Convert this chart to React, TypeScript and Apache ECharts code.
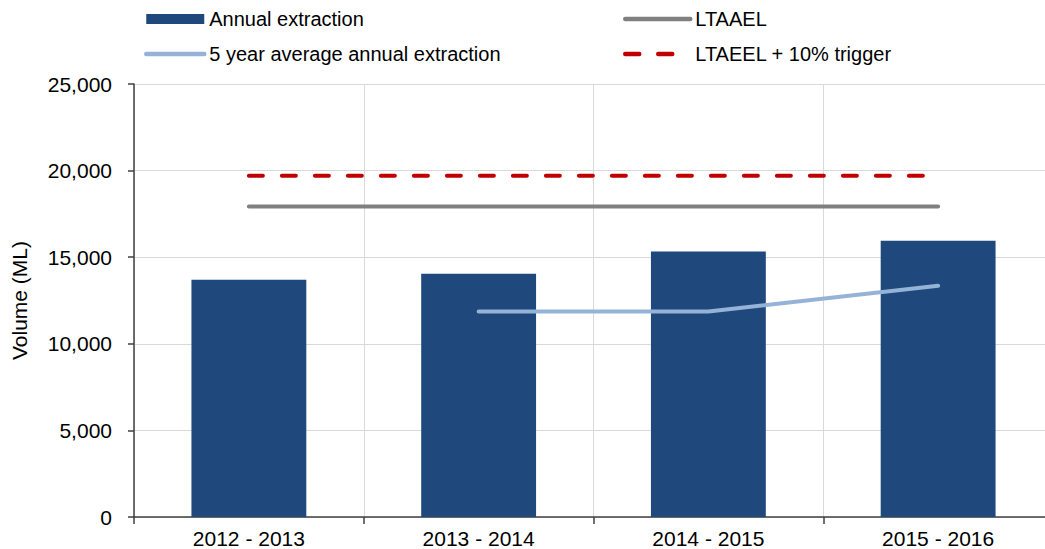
import React, { useEffect, useRef } from "react";
import * as echarts from "echarts";

const categories = ["2012 - 2013", "2013 - 2014", "2014 - 2015", "2015 - 2016"];
const annualExtraction = [13700, 14050, 15330, 15950];
const fiveYearAverage: (number | null)[] = [null, 11870, 11870, 13350];
const ltaael = [17930, 17930, 17930, 17930];
const trigger = [19700, 19700, 19700, 19700];

const FONT = "'Liberation Sans', Arial, sans-serif";

export default function App() {
  const ref = useRef<HTMLDivElement>(null);
  useEffect(() => {
    if (!ref.current) return;
    const chart = echarts.init(ref.current, undefined, { renderer: "svg" });
    const legendText = { fontSize: 20, color: "#000", fontFamily: FONT, lineHeight: 24 };
    chart.setOption({
      animation: false,
      textStyle: { fontFamily: FONT },
      legend: [
        {
          left: 144,
          top: 7,
          padding: 0,
          orient: "vertical",
          itemWidth: 58,
          itemHeight: 10,
          itemGap: 11,
          textStyle: legendText,
          data: [
            { name: "Annual extraction", icon: "rect" },
            {
              name: "5 year average annual extraction",
              itemStyle: { opacity: 0 },
              lineStyle: { width: 4.5, cap: "round" },
            },
          ],
        },
        {
          left: 623,
          top: 7,
          padding: 0,
          orient: "vertical",
          itemWidth: 65,
          itemHeight: 10,
          itemGap: 11,
          textStyle: legendText,
          data: [
            { name: "LTAAEL", itemStyle: { opacity: 0 }, lineStyle: { width: 4.5, cap: "round" } },
            {
              name: "LTAEEL + 10% trigger",
              itemStyle: { opacity: 0 },
              lineStyle: { width: 4.5, cap: "round", type: [14, 19] },
            },
          ],
        },
      ],
      grid: { left: 134, top: 84, width: 919, height: 434, containLabel: false },
      xAxis: {
        type: "category",
        data: categories,
        axisLine: { lineStyle: { color: "#404040", width: 1.5 } },
        axisTick: { show: true, length: 7, lineStyle: { color: "#404040", width: 1.5 } },
        axisLabel: { fontSize: 21, color: "#000", margin: 11, fontFamily: FONT },
        splitLine: { show: true, lineStyle: { color: "#D9D9D9", width: 1 } },
      },
      yAxis: {
        type: "value",
        min: 0,
        max: 25000,
        interval: 5000,
        name: "Volume (ML)",
        nameLocation: "middle",
        nameGap: 104,
        nameTextStyle: { fontSize: 21, color: "#000", fontFamily: FONT },
        axisLine: { show: true, lineStyle: { color: "#404040", width: 1.5 } },
        axisTick: { show: true, length: 6, lineStyle: { color: "#404040", width: 1.5 } },
        axisLabel: {
          fontSize: 21,
          color: "#000",
          margin: 22,
          fontFamily: FONT,
          formatter: (v: number) => v.toLocaleString("en-US"),
        },
        splitLine: { show: true, lineStyle: { color: "#D9D9D9", width: 1 } },
      },
      series: [
        {
          name: "Annual extraction",
          type: "bar",
          data: annualExtraction,
          barWidth: "50%",
          itemStyle: { color: "#1F497D" },
        },
        {
          name: "5 year average annual extraction",
          type: "line",
          data: fiveYearAverage,
          symbol: "none",
          connectNulls: false,
          lineStyle: { color: "#95B3D7", width: 4, cap: "round" },
          itemStyle: { color: "#95B3D7" },
        },
        {
          name: "LTAAEL",
          type: "line",
          data: ltaael,
          symbol: "none",
          lineStyle: { color: "#808080", width: 4, cap: "round" },
          itemStyle: { color: "#808080" },
        },
        {
          name: "LTAEEL + 10% trigger",
          type: "line",
          data: trigger,
          symbol: "none",
          lineStyle: { color: "#C00000", width: 4, type: [14, 19], cap: "round" },
          itemStyle: { color: "#C00000" },
        },
      ],
    });
    return () => chart.dispose();
  }, []);
  return (
    <div style={{ position: "fixed", left: 0, top: 0, width: 1045, height: 549, overflow: "hidden", background: "#fff" }}>
      <div ref={ref} style={{ width: 1070, height: 549 }} />
    </div>
  );
}
